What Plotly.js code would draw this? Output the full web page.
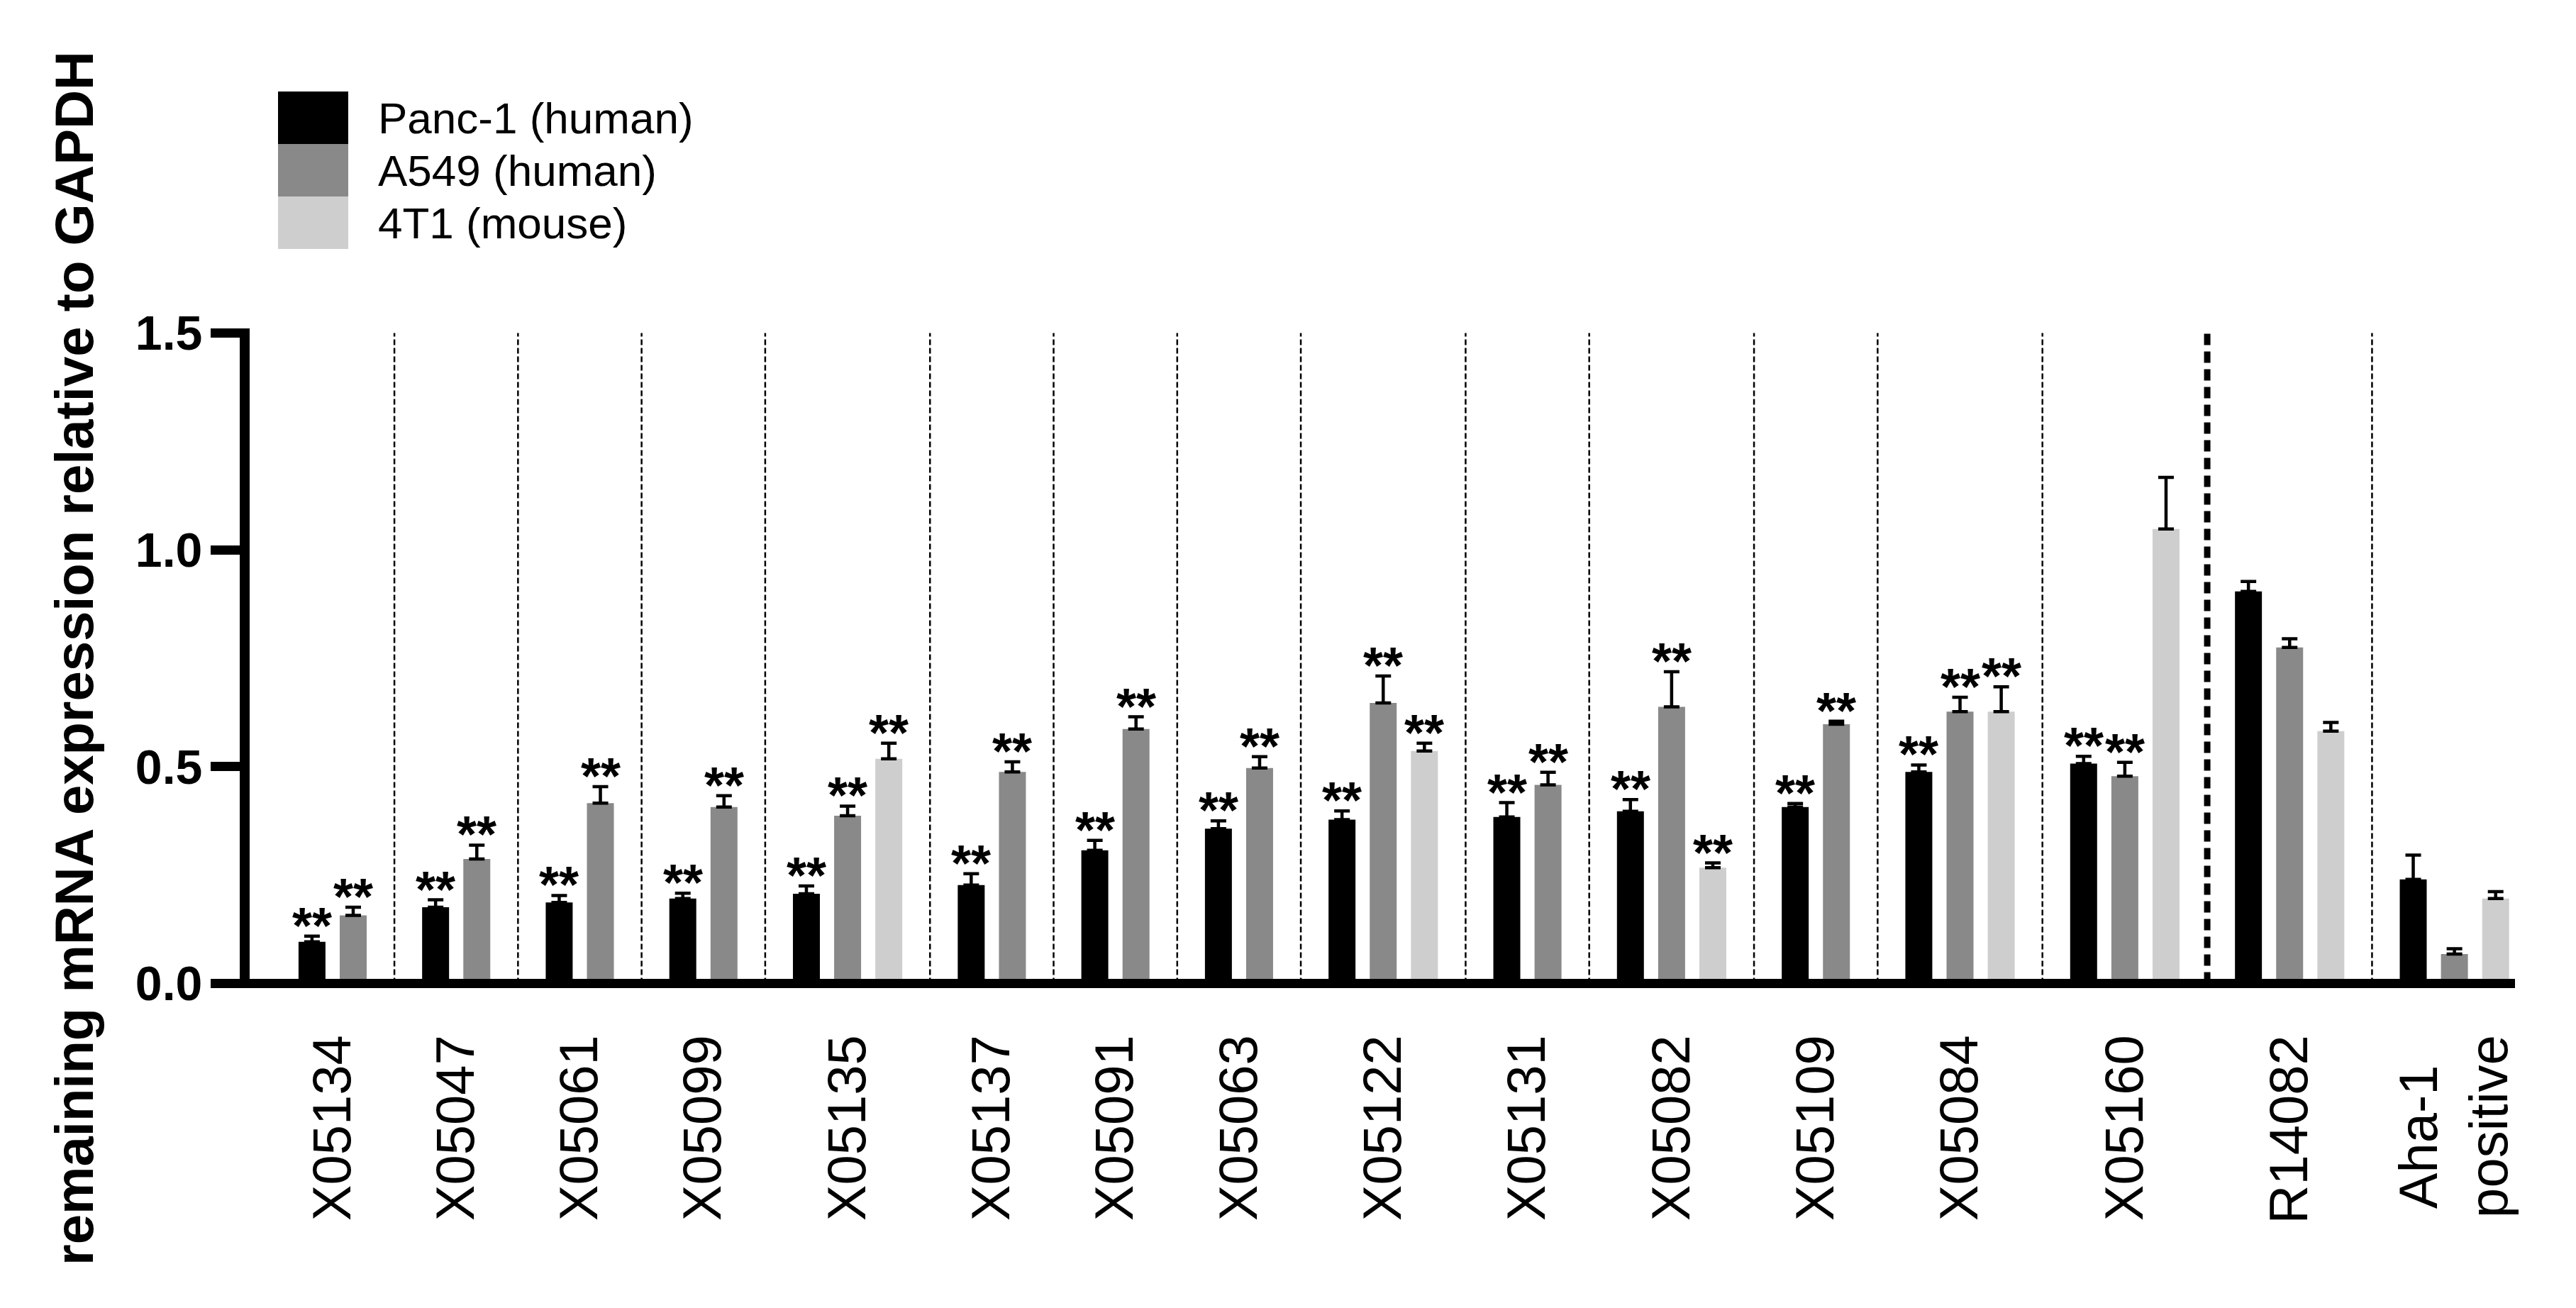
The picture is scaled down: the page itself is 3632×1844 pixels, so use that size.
<!DOCTYPE html>
<html>
<head>
<meta charset="utf-8">
<script src="https://cdn.plot.ly/plotly-3.0.1.min.js"></script>
<style>html,body{margin:0;padding:0;background:#fff;}</style>
</head>
<body>
<div id="chart" style="width:3632px;height:1844px;"></div>
<script>
// ---- data ----
const groups = ["X05134","X05047","X05061","X05099","X05135","X05137","X05091","X05063","X05122","X05131","X05082","X05109","X05084","X05160","R14082","Aha-1&nbsp;&nbsp;<br>positive"];
const seriesNames = ["Panc-1 (human)","A549 (human)","4T1 (mouse)"];
const panc1    = [0.096,0.176,0.187,0.196,0.207,0.227,0.307,0.357,0.378,0.384,0.397,0.407,0.488,0.507,0.904,0.240];
const panc1Err = [0.013,0.017,0.016,0.012,0.018,0.026,0.023,0.018,0.020,0.033,0.027,0.008,0.016,0.017,0.023,0.056];
const a549     = [0.157,0.287,0.416,0.407,0.387,0.488,0.587,0.497,0.647,0.458,0.638,0.598,0.627,0.478,0.775,0.068];
const a549Err  = [0.019,0.032,0.038,0.026,0.022,0.023,0.028,0.026,0.062,0.029,0.081,0.007,0.033,0.032,0.020,0.012];
const t41      = [null,null,null,null,0.518,null,null,null,0.536,null,0.267,null,0.627,1.048,0.582,0.196];
const t41Err   = [null,null,null,null,0.036,null,null,null,0.018,null,0.011,null,0.057,0.119,0.020,0.016];
const panc1Sig = ["**","**","**","**","**","**","**","**","**","**","**","**","**","**","",""];
const a549Sig  = ["**","**","**","**","**","**","**","**","**","**","**","**","**","**","",""];
const t41Sig   = ["","","","","**","","","","**","","**","","**","","",""];
const firstControl = 14; // index of first control group (R14082)

// ---- layout helpers ----
const W = 3632, H = 1844, L = 352, R = 3546, T = 463, B = 1393;
const colors = ["#000000", "#898989", "#cecece"];
const font = "Liberation Sans, Arial, Helvetica, sans-serif";
function pxX(x){ return (x - L) / (R - L); }
function pxY(y){ return (B - y) / (B - T); }

// compute bar positions from group structure
const xs = [[],[],[]];
const centers = [];
const seps = [];
let start = 0;
for (let i = 0; i < groups.length; i++) {
  const n = (t41[i] === null) ? 2 : 3;
  xs[0].push(start + 1);
  xs[1].push(start + 2);
  xs[2].push(start + 3);
  centers.push(start + (n + 1) / 2);
  if (i < groups.length - 1) seps.push({x: start + n + 1, thick: (i + 1) === firstControl});
  start += n + 1;
}

const vals = [panc1, a549, t41];
const errs = [panc1Err, a549Err, t41Err];
const sigs = [panc1Sig, a549Sig, t41Sig];

const traces = vals.map((v, s) => ({
  type: "bar",
  x: xs[s],
  y: v,
  name: seriesNames[s],
  width: 0.654,
  marker: {color: colors[s], line: {width: 0}},
  error_y: {
    type: "data", symmetric: false,
    array: errs[s],
    arrayminus: errs[s].map(e => e === null ? null : 0),
    color: "#000", thickness: 4.5, width: 11
  },
  showlegend: false,
  hoverinfo: "skip"
}));

const annotations = [];
for (let s = 0; s < 3; s++) {
  for (let i = 0; i < groups.length; i++) {
    if (sigs[s][i] && vals[s][i] !== null) {
      annotations.push({
        x: xs[s][i], y: vals[s][i] + errs[s][i], xref: "x", yref: "y",
        text: sigs[s][i], showarrow: false, xanchor: "center", yanchor: "bottom",
        yshift: -27, font: {family: font, size: 72, color: "#000", weight: "bold"}
      });
    }
  }
}

// legend (manual, large swatches)
const shapes = [];
const legTop = 129, legH = 74, legX0 = 392, legX1 = 491;
for (let s = 0; s < 3; s++) {
  shapes.push({
    type: "rect", xref: "paper", yref: "paper",
    x0: pxX(legX0), x1: pxX(legX1),
    y0: pxY(legTop + legH * (s + 1)), y1: pxY(legTop + legH * s),
    fillcolor: colors[s], line: {width: 0}
  });
  annotations.push({
    xref: "paper", yref: "paper", x: pxX(531), y: pxY(legTop + legH * s + legH / 2),
    xanchor: "left", yanchor: "middle", text: seriesNames[s], showarrow: false,
    font: {family: font, size: 62, color: "#000"}
  });
}

// group separators
seps.forEach(sp => {
  shapes.push({
    type: "line", xref: "x", yref: "y", x0: sp.x, x1: sp.x, y0: 0, y1: 1.5,
    layer: "below",
    line: sp.thick ? {color: "#000", width: 9, dash: "16px,9px"} : {color: "#000", width: 2.5, dash: "8px,4px"}
  });
});

const layout = {
  width: W, height: H, autosize: false,
  paper_bgcolor: "#fff", plot_bgcolor: "#fff",
  margin: {l: L, r: W - R, t: T, b: H - B, pad: 0},
  barmode: "overlay",
  showlegend: false,
  font: {family: font, color: "#000"},
  xaxis: {
    range: [-0.513, 54.47],
    tickmode: "array", tickvals: centers, ticktext: groups,
    tickangle: -90, ticks: "", showline: false, showgrid: false, zeroline: false,
    ticklabelstandoff: 50,
    tickfont: {family: font, size: 76, color: "#000"},
    fixedrange: true
  },
  yaxis: {
    range: [-0.01063, 1.51063],
    tickmode: "array", tickvals: [0, 0.5, 1.0, 1.5], ticktext: ["0.0", "0.5", "1.0", "1.5"],
    ticks: "outside", ticklen: 41, tickwidth: 13, tickcolor: "#000",
    showline: true, linewidth: 14, linecolor: "#000",
    showgrid: false,
    zeroline: true, zerolinewidth: 13, zerolinecolor: "#000",
    zerolinelayer: "above traces",
    layer: "above traces",
    ticklabelstandoff: -2,
    tickfont: {family: font, size: 68, color: "#000", weight: "bold"},
    title: {text: "<b>remaining mRNA expression relative to GAPDH</b>", font: {family: font, size: 76, color: "#000"}, standoff: 40},
    fixedrange: true
  },
  shapes: shapes,
  annotations: annotations
};

Plotly.newPlot("chart", traces, layout, {displayModeBar: false, staticPlot: true});
</script>
</body>
</html>
